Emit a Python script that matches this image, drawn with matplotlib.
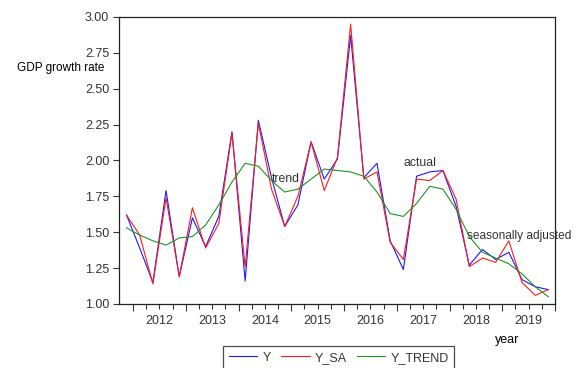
import numpy as np
import matplotlib
matplotlib.use('Agg')
import matplotlib.pyplot as plt

plt.rcParams.update({
    'font.family': ['Liberation Sans', 'DejaVu Sans'],
    'font.size': 9,
    'text.color': '#333333',
    'xtick.color': '#333333', 'ytick.color': '#333333',
    'xtick.labelcolor': '#333333', 'ytick.labelcolor': '#333333',
})

BLUE, RED, GREEN = '#1A1AFF', '#FF1A1A', '#1E951E'

# quarterly observations 2011Q4 .. 2019Q4
quarters = [f'{y}Q{q}' for y in range(2011, 2020) for q in range(1, 5)][3:]
years = ['2012', '2013', '2014', '2015', '2016', '2017', '2018', '2019']

y_actual = [1.62, 1.39, 1.15, 1.79, 1.19, 1.60, 1.40, 1.61, 2.20, 1.16,
            2.28, 1.88, 1.54, 1.69, 2.13, 1.87, 2.01, 2.87, 1.88, 1.98,
            1.44, 1.24, 1.89, 1.92, 1.93, 1.68, 1.27, 1.38, 1.31, 1.36,
            1.17, 1.12, 1.10]
y_sa = [1.62, 1.48, 1.14, 1.74, 1.19, 1.67, 1.39, 1.56, 2.19, 1.26,
        2.26, 1.80, 1.54, 1.75, 2.13, 1.79, 2.02, 2.95, 1.87, 1.92,
        1.43, 1.31, 1.87, 1.86, 1.93, 1.73, 1.26, 1.32, 1.29, 1.44,
        1.15, 1.06, 1.10]
y_trend = [1.53, 1.48, 1.44, 1.41, 1.46, 1.47, 1.55, 1.69, 1.85, 1.98,
           1.96, 1.86, 1.78, 1.80, 1.87, 1.94, 1.93, 1.92, 1.89, 1.78,
           1.63, 1.61, 1.70, 1.82, 1.80, 1.66, 1.47, 1.36, 1.32, 1.28,
           1.21, 1.12, 1.05]

x = np.arange(len(quarters))

fig = plt.figure(figsize=(5.79, 3.68), dpi=100)
ax = fig.add_axes([0.2055, 0.174, 0.753, 0.780])

l1, = ax.plot(x, y_actual, color=BLUE, lw=0.8, label='Y')
l2, = ax.plot(x, y_sa, color=RED, lw=0.8, label='Y_SA')
l3, = ax.plot(x, y_trend, color=GREEN, lw=0.8, label='Y_TREND')

ax.set_xlim(-0.57, 32.5)
ax.set_ylim(1.0, 3.0)
ax.set_yticks(np.arange(1.0, 3.01, 0.25))
ax.yaxis.set_major_formatter(matplotlib.ticker.FormatStrFormatter('%.2f'))
ax.tick_params(axis='y', length=4, pad=3, width=0.8)

# year boundaries (long ticks) and quarter ticks (short)
ax.set_xticks(np.arange(0.5, 33, 4))
ax.set_xticklabels([])
ax.set_xticks(np.arange(0.5, 33, 1), minor=True)
ax.tick_params(axis='x', which='major', length=5, width=0.8)
ax.tick_params(axis='x', which='minor', length=3.5, width=0.8)

sec = ax.secondary_xaxis('bottom')
sec.set_xticks(np.arange(2.5, 33, 4), years)
sec.tick_params(length=0, pad=8)
sec.spines['bottom'].set_visible(False)

for s in ax.spines.values():
    s.set_linewidth(0.9)
    s.set_color('#222222')

ax.set_ylabel('GDP growth rate', rotation=0, ha='center', va='center', fontsize=8.5)
ax.yaxis.set_label_coords(-0.133, 0.823)
ax.set_xlabel('year')
ax.xaxis.set_label_coords(0.89, -0.105)

ax.text(11.05, 1.87, 'trend', ha='left', va='center', fontsize=8.8)
ax.text(21.0, 1.98, 'actual', ha='left', va='center', fontsize=8.8)
ax.text(25.8, 1.475, 'seasonally adjusted', ha='left', va='center',
        fontsize=8.6, clip_on=False)

leg = fig.legend(handles=[l1, l2, l3], loc='upper left', ncol=3,
                 bbox_to_anchor=(223 / 579, 1 - 346 / 368),
                 frameon=True, fancybox=False, handlelength=2.3,
                 handletextpad=0.4, columnspacing=0.8, borderpad=0.45,
                 borderaxespad=0, fontsize=9)
leg.get_frame().set_edgecolor('#222222')
leg.get_frame().set_linewidth(0.9)

fig.savefig('out.png', dpi=100)
plt.close()
